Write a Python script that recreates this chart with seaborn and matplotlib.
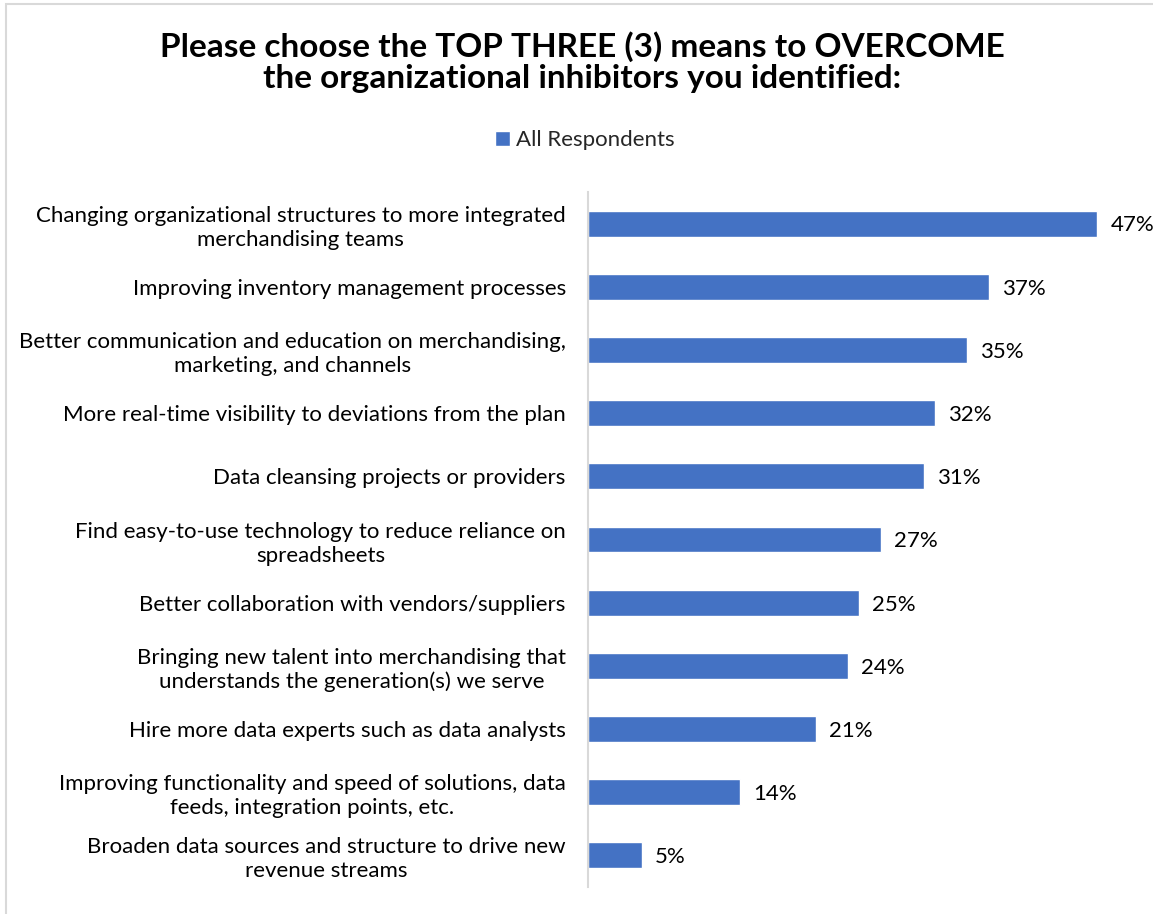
import matplotlib
matplotlib.use("Agg")
import matplotlib.pyplot as plt
from matplotlib.patches import Rectangle, Patch
import seaborn as sns
import pandas as pd

categories = [
    "Changing organizational structures to more integrated\nmerchandising teams",
    "Improving inventory management processes",
    "Better communication and education on merchandising,\nmarketing, and channels",
    "More real-time visibility to deviations from the plan",
    "Data cleansing projects or providers",
    "Find easy-to-use technology to reduce reliance on\nspreadsheets",
    "Better collaboration with vendors/suppliers",
    "Bringing new talent into merchandising that\nunderstands the generation(s) we serve",
    "Hire more data experts such as data analysts",
    "Improving functionality and speed of solutions, data\nfeeds, integration points, etc.",
    "Broaden data sources and structure to drive new\nrevenue streams",
]
values = [47, 37, 35, 32, 31, 27, 25, 24, 21, 14, 5]
series_name = "All Respondents"
title = "Please choose the TOP THREE (3) means to OVERCOME\nthe organizational inhibitors you identified:"

BAR_COLOR = "#4472C4"
FONT = ["Lato", "DejaVu Sans"]
LABEL_SIZE = 16

df = pd.DataFrame({"category": categories, "value": values})

sns.set_theme(style="white")
plt.rcParams["font.family"] = FONT

W, H = 1153, 914
fig = plt.figure(figsize=(W / 100, H / 100), dpi=100)

# light frame around the chart area
fig.patches.append(Rectangle((6 / W, -0.05), 1.1, (H - 4) / H + 0.05,
                             transform=fig.transFigure, fill=False,
                             edgecolor="#D9D9D9", linewidth=1.5, zorder=0))

ax = fig.add_axes([588 / W, 1 - 887 / H, (1130 - 588) / W, (887 - 192) / H])
sns.barplot(data=df, x="value", y="category", color=BAR_COLOR, width=0.41,
            saturation=1, ax=ax, orient="h")

ax.set_xlim(0, 50)
ax.set_ylim(len(categories) - 0.5, -0.5)
ax.set_xlabel("")
ax.set_ylabel("")
ax.set_xticks([])
ax.tick_params(axis="y", length=0, pad=16, labelsize=LABEL_SIZE, labelcolor="black")
for lbl in ax.get_yticklabels():
    lbl.set_multialignment("center")
    lbl.set_linespacing(1.25)
for side in ["top", "right", "bottom"]:
    ax.spines[side].set_visible(False)
ax.spines["left"].set_color("#D9D9D9")
ax.spines["left"].set_linewidth(1.5)

for i, v in enumerate(values):
    ax.text(v + 1.2, i + 0.03, f"{v}%", va="center", ha="left",
            fontsize=LABEL_SIZE, color="black")

fig.text(582 / W, 1 - 62 / H, title, ha="center", va="center",
         fontsize=24, fontweight="bold", color="black", linespacing=1.1)

fig.legend(handles=[Patch(facecolor=BAR_COLOR, label=series_name)],
           loc="center", bbox_to_anchor=(585 / W, 1 - 140 / H), frameon=False,
           fontsize=LABEL_SIZE, handlelength=0.65, handleheight=0.65,
           handletextpad=0.3)

fig.savefig("out.png", dpi=100, facecolor="white")
